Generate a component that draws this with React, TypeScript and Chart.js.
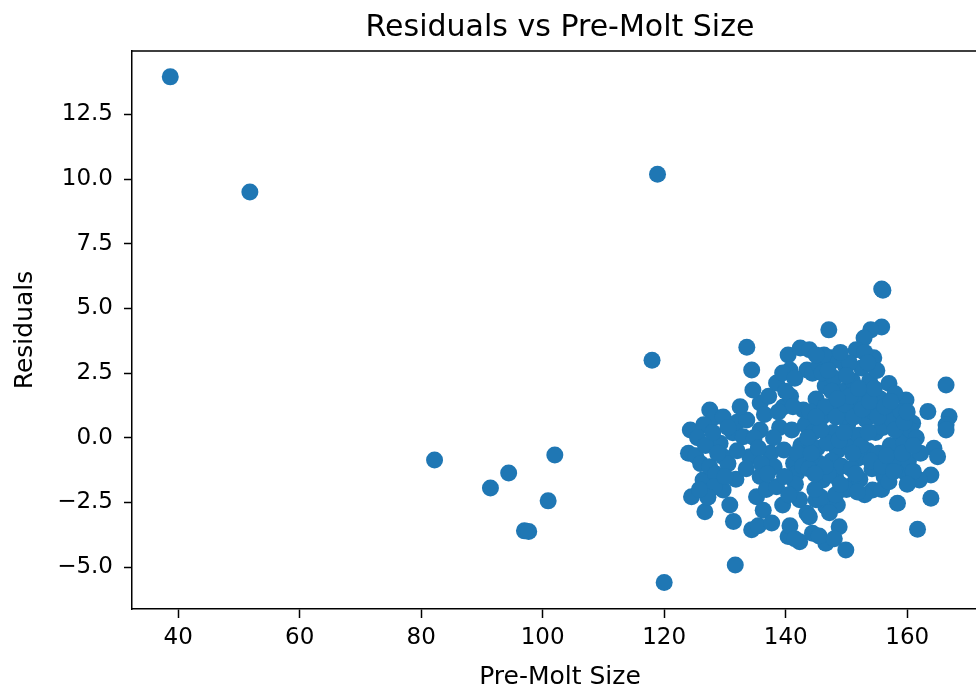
import React, { useEffect, useRef } from "react";
import { Chart, registerables } from "chart.js";

Chart.register(...registerables);

const chartTitle = "Residuals vs Pre-Molt Size";
const xAxisLabel = "Pre-Molt Size";
const yAxisLabel = "Residuals";

const xTickValues = [40, 60, 80, 100, 120, 140, 160];
const yTickValues = [-5, -2.5, 0, 2.5, 5, 7.5, 10, 12.5];

// Pre-molt size (x) and residual (y) for each crab
const preMoltSize = [
  38.7, 51.8, 118.9, 118.0, 82.2, 91.4, 94.4, 102.0, 100.9, 97.0, 97.7, 120.0, 131.7,
  124.3, 124.0, 124.5, 126.7, 125.2, 126.0, 126.4, 127.5, 127.5, 128.3,
  129.7, 129.2, 129.7, 128.5, 129.7, 130.8, 131.4, 131.3, 130.5, 131.8,
  132.0, 133.0, 133.6, 134.1, 133.5, 135.8, 135.2, 134.4, 135.5, 136.3,
  137.7, 136.8, 137.5, 135.8, 135.8, 134.6, 134.4, 133.6, 136.5, 137.2,
  138.5, 138.1, 138.5, 139.6, 139.7, 139.0, 140.4, 140.7, 142.4, 141.3,
  141.8, 142.3, 143.5, 140.4, 142.3, 140.7, 139.5, 142.9, 143.5, 140.8,
  141.0, 142.5, 143.2, 141.6, 126.5, 130.5, 134.8, 139.5, 140.0, 141.2,
  135.5, 132.0, 128.2,
  125.5, 126.8, 128.0, 128.8, 130.0, 127.2, 125.8, 132.5, 136.0, 137.0,
  138.0, 138.8, 139.8, 140.5, 141.9, 142.8, 141.5,
  155.8, 156.0, 147.1, 155.8, 154.0, 152.9, 151.6, 154.5, 147.5, 143.9,
  144.4, 149.9, 157.0, 159.8, 160.9, 163.4, 166.4, 166.9, 166.4, 166.4,
  164.4, 165.0, 163.9, 163.9, 161.7, 158.4, 162.0, 159.8, 158.1, 154.3,
  151.0, 146.1, 145.5, 149.9, 148.8, 146.6, 144.4, 146.6, 143.9, 141.5,
  145.5, 148.0, 148.5, 145.0,
  145.0, 146.0, 146.5, 147.2, 147.8, 148.0, 148.5, 149.0, 149.5, 150.2,
  150.5, 151.0, 151.3, 151.8, 152.0, 152.5, 152.8, 153.2, 153.5, 153.8,
  154.2, 154.5, 154.8, 155.0, 155.3, 155.6, 156.0, 156.2, 156.8, 157.2,
  157.5, 158.0, 158.3, 158.7, 159.0, 159.5, 160.2, 160.5, 161.0, 161.5,
  162.2, 144.5, 145.2, 146.8, 147.5, 148.2, 149.2, 150.0, 150.8, 152.2,
  153.0, 155.8, 157.0, 145.8, 147.2, 148.2, 144.8, 143.8, 144.0, 145.5,
  146.3, 148.8, 150.5, 149.0, 153.0,
  144.2, 145.8, 146.5, 147.0, 147.6, 148.3, 148.8, 149.6, 149.8, 150.6,
  151.2, 151.5, 152.4, 152.6, 153.6, 153.8, 154.0, 154.6, 155.2, 155.8,
  156.3, 156.6, 157.3, 157.8, 158.0, 159.2, 159.5, 160.0, 161.0, 160.0,
  149.0, 146.5, 145.0, 146.0, 147.0, 150.0, 152.0, 153.5, 148.5, 151.0,
  151.8, 143.6, 144.8, 145.0,
];

const residuals = [
  13.95, 9.5, 10.19, 3.0, -0.86, -1.94, -1.36, -0.67, -2.44, -3.6, -3.62, -5.6, -4.92,
  0.3, -0.6, -2.28, -2.86, -0.7, -1.0, -1.63, -1.12, 1.07, 0.8,
  0.8, -0.21, -0.73, -1.4, -2.02, -2.6, -3.24, 0.19, -1.0, -1.6,
  0.6, 0.04, 0.69, -0.73, -1.2, -1.5, -2.28, -3.56, -3.4, -2.8,
  -3.3, -2.0, -0.6, 0.3, 1.34, 1.85, 2.62, 3.5, 0.9, 1.6,
  2.12, -1.12, -1.89, 1.19, -0.47, 0.4, 3.2, 2.62, 3.47, -0.99,
  -1.37, -2.4, -2.92, -3.82, -4.02, -3.4, -2.6, 1.07, 2.62, 1.6,
  0.3, -0.3, 0.5, -1.8, 0.5, 0.4, 0.0, 2.5, 1.8, 1.2,
  -0.4, -0.5, -1.9,
  0.0, -0.3, 0.2, -0.6, -1.5, -2.3, -2.0, 1.2, -1.0, -1.4,
  0.0, 1.0, -1.5, -2.2, -0.6, -1.1, 2.3,
  5.75, 5.7, 4.17, 4.28, 4.17, 3.86, 3.4, 3.09, 3.09, 3.4,
  2.49, 2.75, 2.1, 1.46, 0.56, 1.01, 2.04, 0.82, 0.49, 0.3,
  -0.41, -0.73, -1.44, -2.34, -3.54, -2.53, -1.63, -1.37, -1.12, -2.02,
  -1.82, -1.63, -0.99, -4.34, -3.44, -2.66, -3.69, -4.08, -3.05, -3.9,
  -3.8, -3.9, -2.6, -2.4,
  1.5, 0.8, 2.0, 1.2, 0.2, 2.3, -0.5, 1.0, 1.8, 0.5,
  -0.3, 2.2, 1.3, -0.8, 0.1, 2.7, 1.6, 0.7, -0.5, 2.2,
  -1.2, 1.0, 0.2, 2.6, -0.6, 1.5, 0.4, -1.5, 1.0, -0.3,
  0.7, 1.7, -0.8, 0.2, 1.0, -0.2, -0.9, 0.3, -1.3, 0.0,
  -0.6, 0.2, -0.4, -0.2, -0.9, -1.5, -1.1, -2.0, -1.2, -1.6,
  -2.2, -2.0, -1.7, -2.3, -2.9, -2.2, -2.0, -1.2, 1.0, 2.8,
  3.2, 3.0, 2.9, 3.3, 3.3,
  -0.6, 0.3, 1.2, -1.4, 1.8, 0.8, -0.1, 0.2, 1.3, 1.6,
  0.8, -1.4, -0.3, 1.1, 0.2, 1.4, -0.9, 1.9, 0.8, -1.1,
  1.2, -0.7, 1.4, -1.3, 0.3, -0.6, 0.6, 1.0, -0.3, -1.8,
  -1.8, -1.1, 0.8, 2.5, 2.6, 2.4, 1.9, 2.9, 1.5, -0.6,
  -2.1, 0.0, -1.4, 3.2,
];

const FONT = "'DejaVu Sans', 'Noto Sans', sans-serif";
const POINT_COLOR = "#1f77b4";

export default function App() {
  const canvasRef = useRef<HTMLCanvasElement | null>(null);

  useEffect(() => {
    const canvas = canvasRef.current;
    if (!canvas) return;

    const points = preMoltSize.map((x, i) => ({ x, y: residuals[i] }));

    const framePlugin = {
      id: "frame",
      afterDraw(chart: any) {
        const { ctx, chartArea: a } = chart;
        ctx.save();
        ctx.strokeStyle = "#000";
        ctx.lineWidth = 1.5;
        ctx.beginPath();
        ctx.moveTo(a.left, a.top);
        ctx.lineTo(a.right, a.top);
        ctx.lineTo(a.right, a.bottom);
        ctx.stroke();
        ctx.restore();
      },
    };

    const fmtY = (v: number) => {
      const s = Math.abs(v).toFixed(1);
      return v < 0 ? "\u2212" + s : s;
    };

    const chart = new Chart(canvas, {
      type: "scatter",
      data: {
        datasets: [
          {
            data: points,
            backgroundColor: POINT_COLOR,
            borderColor: POINT_COLOR,
            borderWidth: 0,
            pointRadius: 8.5,
            pointHoverRadius: 8.5,
          },
        ],
      },
      options: {
        animation: false,
        responsive: false,
        maintainAspectRatio: false,
        devicePixelRatio: 1,
        events: [],
        layout: { padding: { left: 0, right: 12, top: 0, bottom: 0 } },
        plugins: {
          legend: { display: false },
          tooltip: { enabled: false },
          title: {
            display: true,
            text: chartTitle,
            fullSize: false,
            align: "center",
            color: "#000",
            font: { family: FONT, size: 30, weight: "normal", lineHeight: 1.2 },
            padding: { top: 10.5, bottom: 4.5 },
          },
        },
        scales: {
          x: {
            type: "linear",
            position: "bottom",
            min: 32.4,
            max: 173.3,
            afterFit(scale: any) {
              scale.height = 91;
            },
            afterBuildTicks(scale: any) {
              scale.ticks = xTickValues.map((v) => ({ value: v }));
            },
            grid: {
              drawOnChartArea: false,
              drawTicks: true,
              tickLength: 9,
              tickColor: "#000",
              tickWidth: 1.5,
            },
            border: { display: true, color: "#000", width: 1.5 },
            ticks: {
              color: "#000",
              font: { family: FONT, size: 23, lineHeight: 1.2 },
              padding: 6,
              maxRotation: 0,
              autoSkip: false,
              callback: (v: any) => String(v),
            },
            title: {
              display: true,
              text: xAxisLabel,
              color: "#000",
              font: { family: FONT, size: 25, lineHeight: 1.2 },
              padding: { top: 0, bottom: 8 },
            },
          },
          y: {
            type: "linear",
            position: "left",
            min: -6.62,
            max: 14.95,
            afterFit(scale: any) {
              scale.width = 132;
            },
            afterBuildTicks(scale: any) {
              scale.ticks = yTickValues.map((v) => ({ value: v }));
            },
            grid: {
              drawOnChartArea: false,
              drawTicks: true,
              tickLength: 8,
              tickColor: "#000",
              tickWidth: 1.5,
            },
            border: { display: true, color: "#000", width: 1.5 },
            ticks: {
              color: "#000",
              font: { family: FONT, size: 23, lineHeight: 1.2 },
              padding: 11,
              autoSkip: false,
              callback: (v: any) => fmtY(Number(v)),
            },
            title: {
              display: true,
              text: yAxisLabel,
              color: "#000",
              font: { family: FONT, size: 25, lineHeight: 1.2 },
              padding: { top: 10, bottom: 0 },
            },
          },
        },
      } as any,
      plugins: [framePlugin],
    });

    return () => {
      chart.destroy();
    };
  }, []);

  return (
    <div
      style={{
        position: "fixed",
        left: 0,
        top: 0,
        width: 976,
        height: 686,
        overflow: "hidden",
        background: "#fff",
      }}
    >
      <canvas
        ref={canvasRef}
        width={1000}
        height={700}
        style={{ display: "block", width: 1000, height: 700 }}
      />
    </div>
  );
}
